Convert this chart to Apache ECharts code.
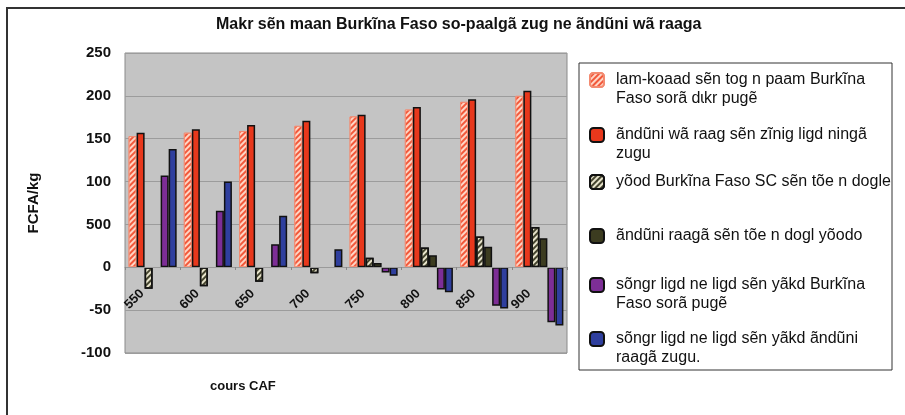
<!DOCTYPE html>
<html>
<head>
<meta charset="UTF-8">
<title>Makr sẽn maan</title>
<script src="https://cdn.jsdelivr.net/npm/echarts@6/dist/echarts.min.js"></script>
<style>
  html, body { margin: 0; padding: 0; background: #fff; }
  #main { width: 905px; height: 415px; }
</style>
</head>
<body>
<div id="main"></div>
<script>
// categories (cours CAF)
var categories = ['550', '600', '650', '700', '750', '800', '850', '900'];

// y tick values and the text written beside them
var yTickValues = [-100, -50, 0, 50, 100, 150, 200, 250];
var yTickLabels = ['-100', '-50', '0', '500', '100', '150', '200', '250'];

// series names, split the way the legend wraps them
var legendLines = [
  ['lam-koaad sẽn tog n paam Burkĩna', 'Faso sorã dɩkr pugẽ'],
  ['ãndũni wã raag sẽn zĩnig ligd ningã', 'zugu'],
  ['yõod Burkĩna Faso SC sẽn tõe n dogle'],
  ['ãndũni raagã sẽn tõe n dogl yõodo'],
  ['sõngr ligd ne ligd sẽn yãkd Burkĩna', 'Faso sorã pugẽ'],
  ['sõngr ligd ne ligd sẽn yãkd ãndũni', 'raagã zugu.']
];

// values
var prixBF      = [153, 157, 159, 165, 176, 184, 193, 200];
var prixMonde   = [157, 161, 166, 171, 178, 187, 196, 206];
var yoodBF      = [-25, -22, -17, -7, 11, 23, 36, 47];
var yoodMonde   = [null, null, null, null, 5, 14, 24, 34];
var ligdBF      = [107, 66, 27, null, -6, -26, -45, -64];
var ligdMonde   = [138, 100, 60, 21, -10, -29, -48, -68];

var seriesData = [prixBF, prixMonde, yoodBF, yoodMonde, ligdBF, ligdMonde];

var names = legendLines.map(function (l) { return l.join(' '); });

var stripe = function (col) {
  return {
    symbol: 'rect', symbolSize: 1,
    dashArrayX: [1, 0], dashArrayY: [2, 2],
    rotation: -Math.PI / 4, color: col
  };
};

var styles = [
  { color: '#f2583a', borderColor: '#f38a70', borderWidth: 1, decal: stripe('rgba(255,226,212,0.9)') },
  { color: '#e8381c', borderColor: '#111', borderWidth: 1.5 },
  { color: '#e8e4cc', borderColor: '#111', borderWidth: 1.5, decal: stripe('#45452f') },
  { color: '#3c3c20', borderColor: '#111', borderWidth: 1.5 },
  { color: '#7d2e96', borderColor: '#111', borderWidth: 1.5 },
  { color: '#2f3f9e', borderColor: '#111', borderWidth: 1.5 }
];

// legend icon centres
var iconY = [80, 135, 182, 236, 285, 339];
var L = 19;

var chart = echarts.init(document.getElementById('main'));

var series = seriesData.map(function (d, i) {
  return {
    name: names[i],
    type: 'bar',
    data: d,
    barGap: '0%',
    barCategoryGap: '13%',
    itemStyle: styles[i]
  };
});

// every legend text is 3 lines tall so the first real line sits beside the icon
var legendText = function (name) {
  var l = legendLines[names.indexOf(name)];
  return l.length > 1 ? '\n' + l.join('\n') : '\n' + l[0] + '\n';
};

var legends = names.map(function (n, i) {
  return {
    data: [n],
    left: 589,
    top: iconY[i] - 1.5 * L,
    padding: 0,
    itemWidth: 14,
    itemHeight: 14,
    itemGap: 0,
    selectedMode: false,
    formatter: legendText,
    textStyle: {
      fontFamily: 'Liberation Sans, Arial, sans-serif',
      fontSize: 16,
      color: '#111',
      lineHeight: L,
      padding: [0, 0, 0, 7]
    }
  };
});

var option = {
  animation: false,
  backgroundColor: '#fff',
  textStyle: { fontFamily: 'Liberation Sans, Arial, sans-serif' },
  title: [
    {
      text: 'Makr sẽn maan Burkĩna Faso so-paalgã zug ne ãndũni wã raaga',
      left: 211, top: 12,
      textStyle: { fontSize: 16, fontWeight: 'bold', color: '#111' }
    },
    {
      text: 'cours CAF',
      left: 205, top: 375,
      textStyle: { fontSize: 13, fontWeight: 'bold', color: '#111' }
    }
  ],
  graphic: [
    {
      type: 'rect', z: 0,
      shape: { x: 7, y: 8, width: 910, height: 420 },
      style: { fill: 'none', stroke: '#333', lineWidth: 2 }
    },
    {
      type: 'rect', z: 0,
      shape: { x: 579, y: 63, width: 313, height: 307 },
      style: { fill: '#fff', stroke: '#333', lineWidth: 1 }
    }
  ],
  legend: legends,
  grid: {
    left: 125, right: 338, top: 53, bottom: 62,
    show: true,
    backgroundColor: '#c4c4c4',
    borderColor: '#8a8a8a',
    borderWidth: 1
  },
  xAxis: {
    type: 'category',
    data: categories,
    z: 10,
    // sits on the zero line
    offset: -86,
    axisLine: { onZero: false, lineStyle: { color: '#9a9a9a' } },
    axisTick: { show: true, length: 3, lineStyle: { color: '#888' } },
    axisLabel: {
      rotate: 45, margin: 14,
      padding: [0, 15, 0, 0],
      fontSize: 13, fontWeight: 'bold', color: '#111'
    }
  },
  yAxis: {
    type: 'value',
    min: -100, max: 250, interval: 50,
    name: 'FCFA/kg',
    nameLocation: 'middle',
    nameRotate: 90,
    nameGap: 84,
    nameTextStyle: { fontSize: 15, fontWeight: 'bold', color: '#111' },
    axisLine: { show: false },
    axisTick: { show: false },
    splitLine: { lineStyle: { color: '#9c9c9c', width: 1 } },
    axisLabel: {
      margin: 14,
      fontSize: 15, fontWeight: 'bold', color: '#111',
      formatter: function (v) {
        var k = yTickValues.indexOf(v);
        return k >= 0 ? yTickLabels[k] : '';
      }
    }
  },
  series: series
};

chart.setOption(option);
</script>
</body>
</html>
